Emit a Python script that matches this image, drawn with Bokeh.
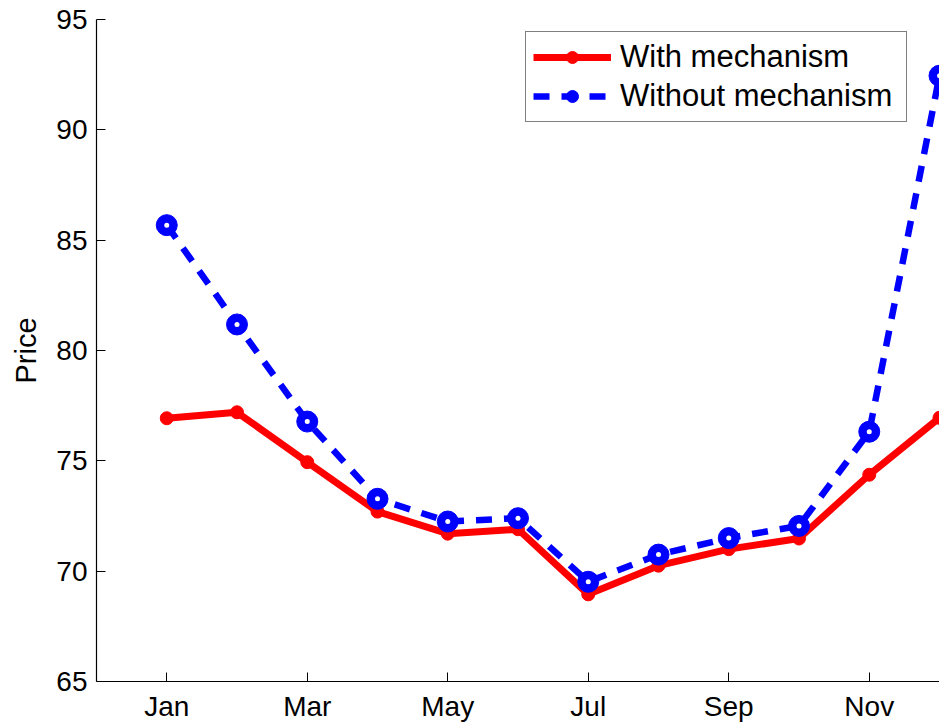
from bokeh.plotting import figure
from bokeh.models import Range1d, FixedTicker, Legend, LegendItem, ColumnDataSource
from bokeh.embed import file_html
from bokeh.resources import INLINE

months = ["Jan", "Feb", "Mar", "Apr", "May", "Jun", "Jul", "Aug", "Sep", "Oct", "Nov", "Dec"]
month_idx = [1, 2, 3, 4, 5, 6, 7, 8, 9, 10, 11, 12]
with_mech = [76.93, 77.2, 74.94, 72.7, 71.7, 71.9, 68.95, 70.25, 71.0, 71.48, 74.37, 76.95]
without_mech = [85.68, 81.18, 76.78, 73.28, 72.25, 72.4, 69.52, 70.75, 71.5, 72.05, 76.32, 92.45]
tick_months = [1, 3, 5, 7, 9, 11]
y_ticks = [65, 70, 75, 80, 85, 90, 95]

FONT = "Liberation Sans"

src = ColumnDataSource(dict(x=month_idx, w=with_mech, wo=without_mech))

p = figure(width=939, height=726, output_backend="svg", toolbar_location=None,
           x_range=Range1d(0, 12), y_range=Range1d(65, 95),
           min_border_left=96, min_border_top=19, min_border_right=0, min_border_bottom=45)
p.outline_line_color = None
p.xgrid.visible = False
p.ygrid.visible = False
p.background_fill_color = "white"
p.border_fill_color = "white"

r_line = p.line("x", "w", source=src, line_color="#ff0000", line_width=7)
r_pts = p.scatter("x", "w", source=src, marker="circle", size=13, fill_color="#ff0000", line_color="#ff0000")

b_line = p.line("x", "wo", source=src, line_color="#0000ff", line_width=6.5, line_dash="16 12")
b_pts = p.scatter("x", "wo", source=src, marker="circle", size=21, fill_color="#0000ff", line_color="#0000ff")
b_hole = p.scatter("x", "wo", source=src, marker="circle", size=5, fill_color="white", line_color=None)

p.xaxis.ticker = FixedTicker(ticks=tick_months)
p.xaxis.major_label_overrides = {m: months[m - 1] for m in tick_months}
p.yaxis.ticker = FixedTicker(ticks=y_ticks)
p.yaxis.axis_label = "Price"

for ax in (p.xaxis[0], p.yaxis[0]):
    ax.major_tick_in = 9
    ax.major_tick_out = 0
    ax.minor_tick_in = 0
    ax.minor_tick_out = 0
    ax.axis_line_color = "black"
    ax.axis_line_width = 1.2
    ax.major_tick_line_color = "black"
    ax.major_label_text_font = FONT
    ax.major_label_text_font_size = "28px"
    ax.major_label_text_color = "black"
    ax.major_label_standoff = 9

p.yaxis.axis_label_text_font = FONT
p.yaxis.axis_label_text_font_size = "29px"
p.yaxis.axis_label_text_font_style = "normal"
p.yaxis.axis_label_text_color = "black"
p.yaxis.axis_label_standoff = 11

legend = Legend(items=[
    LegendItem(label="With mechanism", renderers=[r_line, r_pts]),
    LegendItem(label="Without mechanism", renderers=[b_line, b_pts]),
], location=(429, 559))
legend.label_text_font = FONT
legend.label_text_font_size = "31px"
legend.label_text_color = "black"
legend.border_line_color = "black"
legend.border_line_width = 1.2
legend.background_fill_color = "white"
legend.background_fill_alpha = 1
legend.glyph_width = 78
legend.glyph_height = 30
legend.label_standoff = 9
legend.label_width = 279
legend.label_height = 30
legend.spacing = 3
legend.padding = 7
legend.margin = 0
p.add_layout(legend, "center")

open("out.html", "w").write(file_html(p, INLINE))
